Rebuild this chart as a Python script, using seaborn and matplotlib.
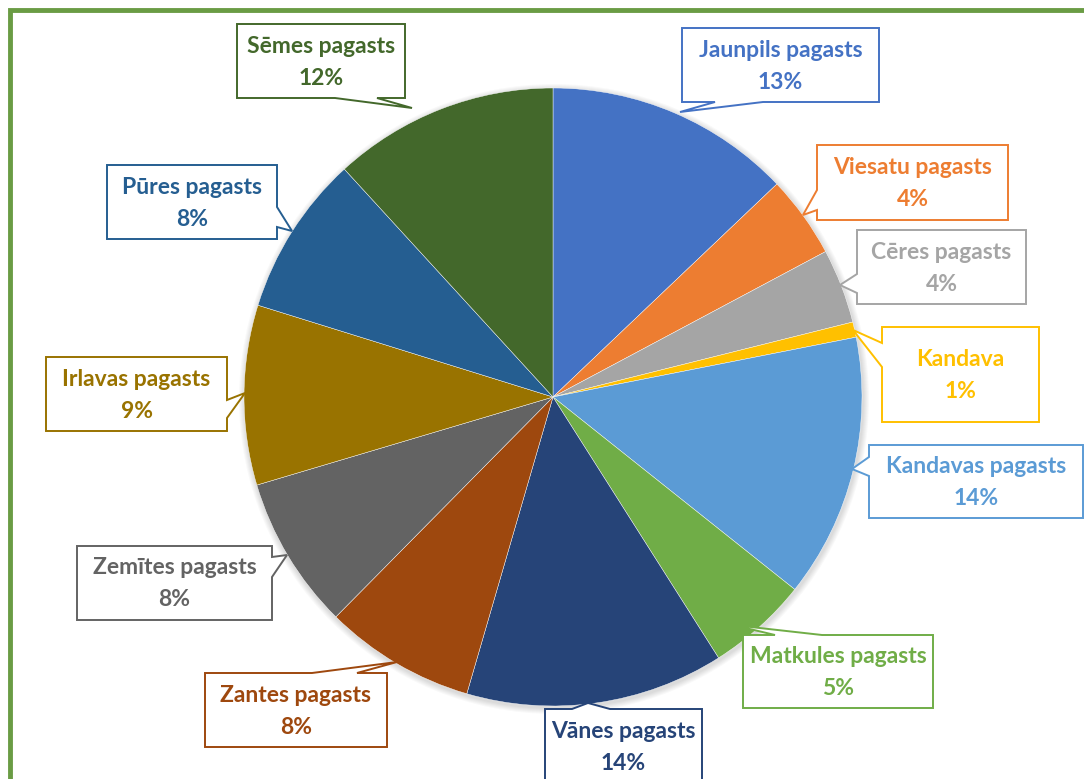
import numpy as np
import matplotlib
matplotlib.use("Agg")
import matplotlib.pyplot as plt
from matplotlib.patches import Polygon, Circle
import seaborn as sns

# data (share of total, %)
regions = ["Jaunpils pagasts", "Viesatu pagasts", "Cēres pagasts", "Kandava",
           "Kandavas pagasts", "Matkules pagasts", "Vānes pagasts", "Zantes pagasts",
           "Zemītes pagasts", "Irlavas pagasts", "Pūres pagasts", "Sēmes pagasts"]
shares = [12.9, 4.3, 3.9, 0.8, 13.8, 5.3, 13.5, 7.9, 8.0, 9.4, 8.4, 11.8]
pct_labels = ["13%", "4%", "4%", "1%", "14%", "5%", "14%", "8%", "8%", "9%", "8%", "12%"]

colors = ["#4472C4", "#ED7D31", "#A5A5A5", "#FFC000", "#5B9BD5", "#70AD47",
          "#264478", "#9E480E", "#636363", "#997300", "#255E91", "#43682B"]

# callout layout in image pixels: box (x0, y0, x1, y1), side of pointer, base range, tip
W, H = 1084, 779
callouts = [
    ((682, 28, 879, 102), "bottom", (715, 763), (680, 112)),
    ((817, 145, 1008, 220), "left", (190, 210), (803, 215)),
    ((857, 230, 1026, 304), "left", (274, 293), (840, 285)),
    ((882, 327, 1039, 422), "left", (343, 367), (853, 330)),
    ((869, 445, 1083, 518), "left", (457, 476), (852, 469)),
    ((743, 635, 933, 708), "top", (775, 822), (733, 625)),
    ((545, 709, 702, 783), "top", (572, 610), (588, 703)),
    ((205, 673, 387, 747), "top", (312, 357), (397, 662)),
    ((77, 546, 272, 620), "right", (557, 577), (287, 555)),
    ((46, 357, 227, 431), "right", (400, 418), (245, 393)),
    ((107, 165, 277, 239), "right", (207, 227), (292, 231)),
    ((237, 24, 405, 98), "bottom", (335, 377), (412, 108)),
]

sns.set_theme(style="white")
plt.rcParams["font.family"] = ["Lato", "DejaVu Sans"]

fig = plt.figure(figsize=(W / 100, H / 100), dpi=100)
ax = fig.add_axes([0, 0, 1, 1])

cx, cy, r = 553, H - 397, 309

# soft shadow round the pie
for k in range(6):
    ax.add_patch(Circle((cx + 1, cy - 2), r + 1 + k, color="#000000", alpha=0.025, lw=0, zorder=1))

ax.pie(shares, colors=colors, startangle=90, counterclock=False,
       center=(cx, cy), radius=r, frame=True,
       wedgeprops=dict(edgecolor="white", linewidth=0.3), normalize=True)
ax.set_xlim(0, W)
ax.set_ylim(0, H)
ax.set_aspect("equal")
ax.axis("off")


def bubble(box, side, base, tip):
    x0, y0, x1, y1 = box
    b0, b1 = base
    if side == "bottom":
        pts = [(x0, y0), (x1, y0), (x1, y1), (b1, y1), tip, (b0, y1), (x0, y1)]
    elif side == "top":
        pts = [(x0, y0), (b0, y0), tip, (b1, y0), (x1, y0), (x1, y1), (x0, y1)]
    elif side == "left":
        pts = [(x0, y0), (x1, y0), (x1, y1), (x0, y1), (x0, b1), tip, (x0, b0)]
    else:
        pts = [(x0, y0), (x1, y0), (x1, b0), tip, (x1, b1), (x1, y1), (x0, y1)]
    return [(px, H - py) for px, py in pts]


for name, pct, col, (box, side, base, tip) in zip(regions, pct_labels, colors, callouts):
    ax.add_patch(Polygon(bubble(box, side, base, tip), closed=True, facecolor="white",
                         edgecolor=col, lw=1.4, zorder=5, clip_on=False))
    x0, y0, x1, y1 = box
    mid = (y0 + y1) / 2
    xm = (x0 + x1) / 2
    ax.text(xm, H - (mid - 15), name, ha="center", va="center",
            color=col, fontsize=16.5, fontweight="bold", zorder=6)
    ax.text(xm, H - (mid + 17), pct, ha="center", va="center",
            color=col, fontsize=16.5, fontweight="bold", zorder=6)

# green chart frame (cut off at right and bottom)
ax.plot([10, 10, W + 5], [-5, H - 10, H - 10], color="#6A9C44", lw=3.5,
        solid_joinstyle="miter", zorder=7, clip_on=False)

fig.savefig("out.png", dpi=100)
